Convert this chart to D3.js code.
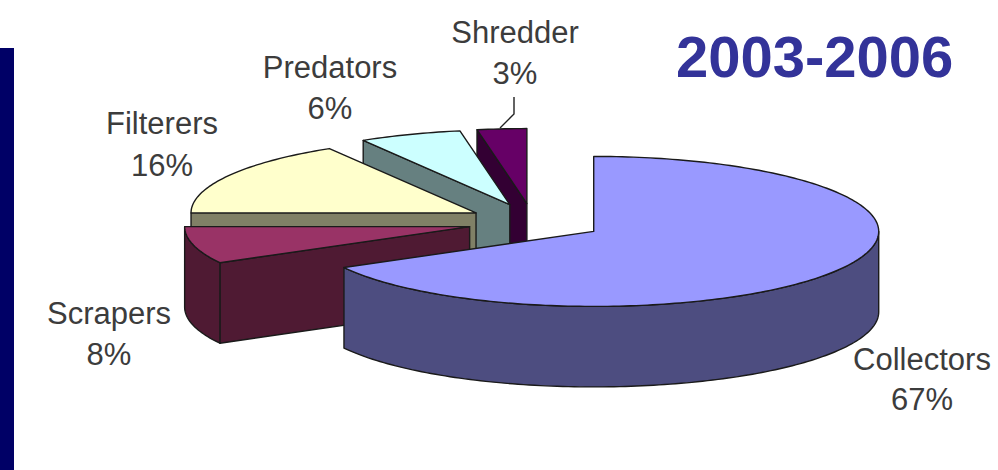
<!DOCTYPE html>
<html>
<head>
<meta charset="utf-8">
<script src="https://cdn.jsdelivr.net/npm/d3@7/dist/d3.min.js"></script>
<style>
html,body{margin:0;padding:0;background:#fff;}
svg{display:block;}
text{font-family:"Liberation Sans",Arial,sans-serif;}
</style>
</head>
<body>
<svg id="chart" width="998" height="470"></svg>
<script>
// Data
const categories = ["Collectors","Scrapers","Filterers","Predators","Shredder"];
const shares = [67, 8, 16.4, 5.8, 2.8];
const titleText = "2003-2006";

// Styles (per category, same order)
const topColors  = ["#9999ff","#993366","#ffffcc","#ccffff","#660066"];
const wallColors = ["#4d4d80","#4f1a33","#808066","#668080","#330033"];

// Layout
const W = 998, H = 470;
const center = {x: 532.6, y: 222};
const rx = 285, ry = 75, depth = 80.5;
const labelLayout = {
  Collectors:{x:922,y1:370,y2:410},
  Scrapers:{x:109,y1:324,y2:365},
  Filterers:{x:162,y1:134,y2:176},
  Predators:{x:330,y1:78,y2:119},
  Shredder:{x:515,y1:43,y2:84}
};

const svg = d3.select("#chart");
svg.append("rect").attr("width",W).attr("height",H).attr("fill","#fff");
svg.append("rect").attr("x",0).attr("y",48).attr("width",14).attr("height",H-48).attr("fill","#000066");

const pie = d3.pie().sort(null).value(d=>d.value).startAngle(0).endAngle(2*Math.PI);
const arcs = pie(categories.map((name,i)=>({name,value:shares[i],top:topColors[i],wall:wallColors[i]})));

const sx = d3.scaleLinear().domain([-1,1]).range([-rx,rx]);
const sy = d3.scaleLinear().domain([-1,1]).range([ry,-ry]);
const ex = d3.scaleLinear().domain([-1,0,1]).range([-65,0,71]);
const ey = d3.scaleLinear().domain([-1,1]).range([18.5,-18.5]);
const line = d3.line().x(d=>d[0]).y(d=>d[1]);

function rimPoints(o,a0,a1,dy){
  const n = Math.max(2,Math.ceil(Math.abs(a1-a0)/0.02));
  return d3.range(n+1).map(i=>{
    const a = a0+(a1-a0)*i/n;
    return [o.x+sx(Math.sin(a)), o.y+sy(Math.cos(a))+dy];
  });
}
function radialWall(o,a){
  const e = rimPoints(o,a,a,0)[0];
  return [[o.x,o.y],e,[e[0],e[1]+depth],[o.x,o.y+depth],[o.x,o.y]];
}
const outline = {stroke:"#1a1a1a","stroke-width":1.4,"stroke-linejoin":"round"};
function draw(points,fill,g){
  const p = g.append("path").attr("d",line(points)+"Z").attr("fill",fill);
  Object.entries(outline).forEach(([k,v])=>p.attr(k,v));
}

// Painter's order: from the back slice to the front one
const order = arcs.slice().reverse();
const groups = svg.selectAll("g.slice").data(order).join("g").attr("class","slice");
groups.each(function(d){
  const g = d3.select(this);
  const mid = (d.startAngle+d.endAngle)/2;
  const o = {x:center.x+ex(Math.sin(mid)), y:center.y+ey(Math.cos(mid))};
  // cut faces that look towards the viewer
  if(Math.sin(d.startAngle)<-0.01) draw(radialWall(o,d.startAngle),d.data.wall,g);
  if(Math.sin(d.endAngle)>0.01) draw(radialWall(o,d.endAngle),d.data.wall,g);
  // outer rim, front half only
  const a0 = Math.max(d.startAngle,Math.PI/2), a1 = Math.min(d.endAngle,1.5*Math.PI);
  if(a1>a0){
    const upper = rimPoints(o,a0,a1,0), lower = rimPoints(o,a1,a0,depth);
    draw(upper.concat(lower),d.data.wall,g);
  }
  // top face
  draw([[o.x,o.y]].concat(rimPoints(o,d.startAngle,d.endAngle,0)),d.data.top,g);
});

// Leader line
svg.append("path").attr("d","M514,97V114L500,128").attr("fill","none").attr("stroke","#222").attr("stroke-width",1.4);

// Labels
const labelG = svg.append("g").attr("fill","#3c3c3c").attr("font-size",31).attr("text-anchor","middle");
arcs.forEach(d=>{
  const l = labelLayout[d.data.name];
  labelG.append("text").attr("x",l.x).attr("y",l.y1).text(d.data.name);
  labelG.append("text").attr("x",l.x).attr("y",l.y2).text(Math.round(d.data.value)+"%");
});

// Title
svg.append("text").attr("x",676).attr("y",77).attr("font-size",58).attr("font-weight","bold").attr("fill","#333399").text(titleText);
</script>
</body>
</html>
